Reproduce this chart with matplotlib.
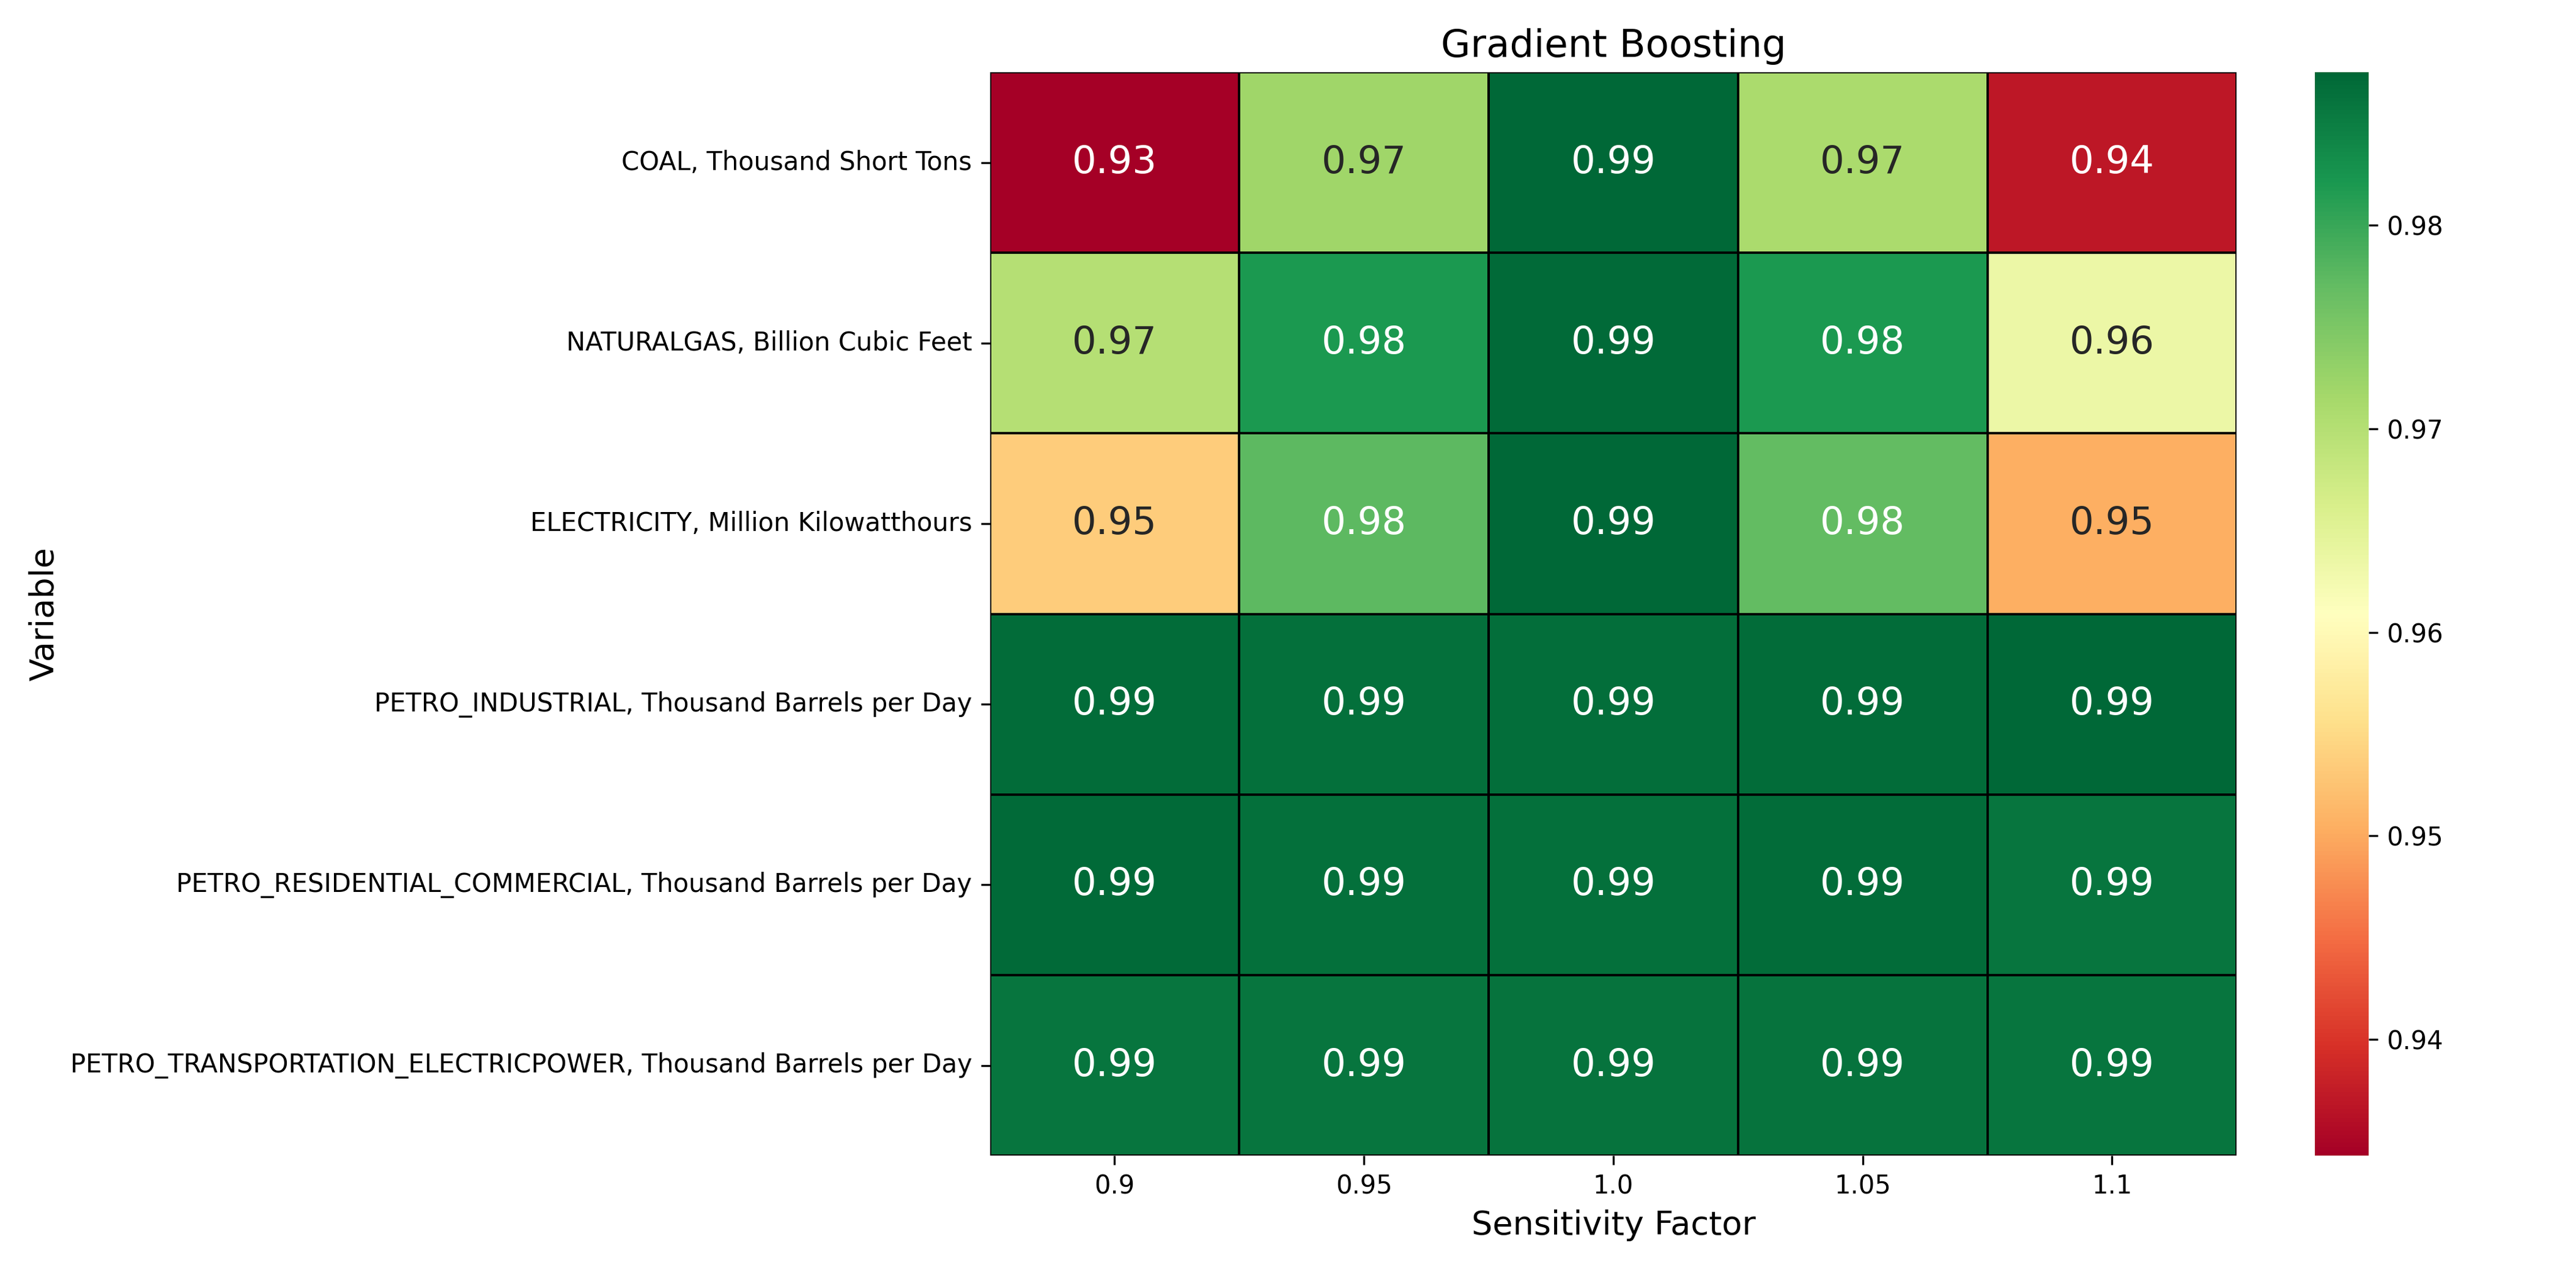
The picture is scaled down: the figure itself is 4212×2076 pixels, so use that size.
import numpy as np
import pandas as pd
import matplotlib
matplotlib.use("Agg")
import matplotlib.pyplot as plt
import seaborn as sns

variables = ["COAL, Thousand Short Tons",
             "NATURALGAS, Billion Cubic Feet",
             "ELECTRICITY, Million Kilowatthours",
             "PETRO_INDUSTRIAL, Thousand Barrels per Day",
             "PETRO_RESIDENTIAL_COMMERCIAL, Thousand Barrels per Day",
             "PETRO_TRANSPORTATION_ELECTRICPOWER, Thousand Barrels per Day"]
factors = ["0.9", "0.95", "1.0", "1.05", "1.1"]

coal = [0.9343, 0.9720, 0.9875, 0.9710, 0.9370]
natgas = [0.9700, 0.9820, 0.9872, 0.9820, 0.9635]
elec = [0.9535, 0.9775, 0.9873, 0.9770, 0.9505]
petro_ind = [0.9870, 0.9865, 0.9868, 0.9870, 0.9875]
petro_res = [0.9872, 0.9865, 0.9866, 0.9870, 0.9860]
petro_trans = [0.9860, 0.9860, 0.9862, 0.9862, 0.9860]

df = pd.DataFrame([coal, natgas, elec, petro_ind, petro_res, petro_trans],
                  index=variables, columns=factors)

fig = plt.figure(figsize=(14.04, 6.92))
ax = sns.heatmap(df, annot=True, fmt=".2f", cmap="RdYlGn",
                 linewidths=0.5, linecolor="black",
                 annot_kws={"size": 15})
ax.set_title("Gradient Boosting", fontsize=15)
ax.set_xlabel("Sensitivity Factor", fontsize=13)
ax.set_ylabel("Variable", fontsize=13)
plt.yticks(rotation=0)
plt.tight_layout()
plt.savefig("out.png", dpi=300)
